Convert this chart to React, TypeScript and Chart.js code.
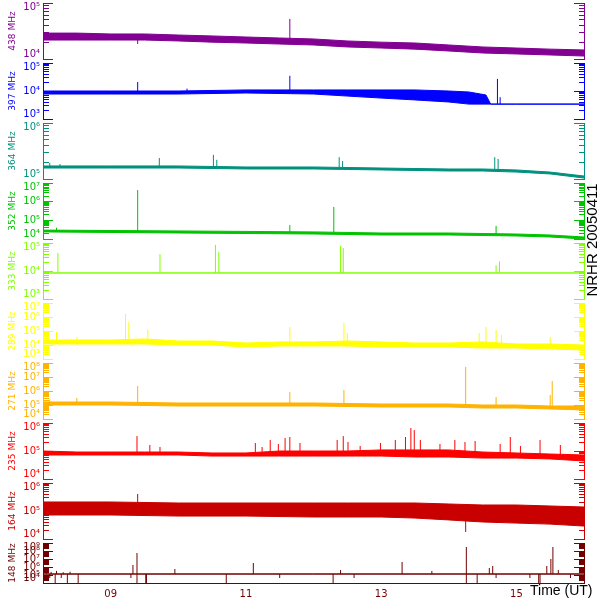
import React, { useEffect, useRef } from 'react';
import { Chart, registerables } from 'chart.js';

Chart.register(...registerables);

// ---------- time axis (hours UT) ----------
const HOUR_MIN = 8;
const HOUR_MAX = 16;
const hourTicks = [9, 11, 13, 15];
const halfHours = [8, 8.5, 9, 9.5, 10, 10.5, 11, 11.5, 12, 12.5, 13, 13.5, 14, 14.5, 15, 15.5, 16];

// ---------- 438 MHz ----------
const hi438 = [2.9e4, 2.9e4, 2.8e4, 2.8e4, 2.68e4, 2.58e4, 2.47e4, 2.37e4, 2.28e4, 2.1e4, 2.0e4, 1.93e4, 1.78e4, 1.64e4, 1.57e4, 1.5e4, 1.45e4];
const lo438 = [2.18e4, 2.18e4, 2.18e4, 2.18e4, 2.1e4, 2.0e4, 1.93e4, 1.85e4, 1.78e4, 1.64e4, 1.57e4, 1.5e4, 1.39e4, 1.28e4, 1.23e4, 1.18e4, 1.13e4];
const spikeT438 = [9.4, 11.65];
const spikeLo438 = [1.85e4, 2.3e4];
const spikeHi438 = [2.3e4, 5.2e4];

// ---------- 397 MHz ----------
const t397 = [8, 9, 10, 11, 12, 12.5, 13, 13.5, 14, 14.3, 14.55, 14.62, 15, 16];
const hi397 = [1.0e4, 1.0e4, 1.0e4, 1.09e4, 1.09e4, 1.09e4, 1.09e4, 1.09e4, 1.0e4, 9.2e3, 7.2e3, 3.4e3, 3.4e3, 3.4e3];
const lo397 = [7.8e3, 7.8e3, 7.8e3, 8.5e3, 7.8e3, 6.6e3, 5.6e3, 4.8e3, 4.05e3, 3.4e3, 3.4e3, 3.4e3, 3.4e3, 3.4e3];
const spikeT397 = [9.4, 10.13, 11.65, 14.45, 14.72, 14.76];
const spikeLo397 = [9.0e3, 9.0e3, 9.5e3, 3.4e3, 3.4e3, 3.4e3];
const spikeHi397 = [2.1e4, 1.22e4, 3.5e4, 5.0e3, 2.7e4, 6.0e3];

// ---------- 364 MHz ----------
const t364 = [8, 9, 10, 11, 12, 13, 14, 14.5, 15, 15.5, 16];
const hi364 = [1.71e5, 1.71e5, 1.71e5, 1.64e5, 1.64e5, 1.57e5, 1.51e5, 1.51e5, 1.45e5, 1.33e5, 1.13e5];
const lo364 = [1.57e5, 1.57e5, 1.57e5, 1.51e5, 1.51e5, 1.45e5, 1.39e5, 1.39e5, 1.33e5, 1.23e5, 1.04e5];
const spikeT364 = [8.1, 8.25, 9.72, 10.52, 10.57, 12.38, 12.43, 14.68, 14.73];
const spikeLo364 = [1.6e5, 1.6e5, 1.6e5, 1.6e5, 1.6e5, 1.55e5, 1.55e5, 1.45e5, 1.45e5];
const spikeHi364 = [1.93e5, 1.85e5, 2.37e5, 2.7e5, 2.2e5, 2.45e5, 2.1e5, 2.45e5, 2.28e5];

// ---------- 352 MHz ----------
const t352 = [8, 10, 12, 13, 14, 15, 15.5, 16];
const hi352 = [3.0e4, 2.7e4, 2.4e4, 2.1e4, 2.1e4, 1.85e4, 1.64e4, 1.28e4];
const lo352 = [2.4e4, 2.1e4, 1.85e4, 1.64e4, 1.64e4, 1.45e4, 1.28e4, 1.0e4];
const spikeT352 = [8.2, 9.4, 11.65, 12.3, 14.7];
const spikeLo352 = [2.6e4, 2.5e4, 2.2e4, 2.1e4, 1.8e4];
const spikeHi352 = [4.0e4, 4.2e6, 5.6e4, 5.2e5, 5.0e4];

// ---------- 333 MHz ----------
const t333 = [8, 16];
const hi333 = [8.5e3, 8.5e3];
const lo333 = [8.5e3, 8.5e3];
const spikeT333 = [8.22, 9.73, 10.55, 10.6, 12.4, 12.44, 14.7, 14.75];
const spikeLo333 = [8.5e3, 8.5e3, 8.5e3, 8.5e3, 8.5e3, 8.5e3, 8.5e3, 8.5e3];
const spikeHi333 = [4.4e4, 4.0e4, 8.5e4, 4.8e4, 7.8e4, 6.6e4, 1.6e4, 2.2e4];

// ---------- 289 MHz ----------
const hi289 = [2.28e4, 2.28e4, 2.28e4, 2.68e4, 1.93e4, 1.93e4, 1.39e4, 1.64e4, 1.64e4, 1.93e4, 1.64e4, 1.39e4, 1.39e4, 1.64e4, 1.18e4, 1.18e4, 1.0e4];
const lo289 = [1.18e4, 1.18e4, 1.18e4, 1.18e4, 1.0e4, 1.0e4, 7.2e3, 8.5e3, 8.5e3, 8.5e3, 7.2e3, 7.2e3, 7.2e3, 6.1e3, 6.1e3, 5.2e3, 4.4e3];
const spikeT289 = [8.2, 8.5, 9.22, 9.27, 9.55, 11.65, 12.45, 12.5, 14.45, 14.55, 14.7, 14.78, 15.5];
const spikeLo289 = [1.5e4, 1.5e4, 1.5e4, 1.5e4, 1.5e4, 1.2e4, 1.3e4, 1.3e4, 1.1e4, 1.1e4, 1.1e4, 1.1e4, 9.0e3];
const spikeHi289 = [8.5e4, 3.7e4, 1.64e6, 4.4e5, 1.18e5, 1.93e5, 3.7e5, 7.2e4, 7.2e4, 1.93e5, 1.18e5, 5.2e4, 3.7e4];

// ---------- 271 MHz ----------
const t271 = [8, 9, 10, 11, 12, 13, 14, 14.5, 15, 15.5, 16];
const hi271 = [1.64e5, 1.64e5, 1.39e5, 1.39e5, 1.39e5, 1.18e5, 1.18e5, 1.0e5, 1.0e5, 8.5e4, 8.5e4];
const lo271 = [1.0e5, 1.0e5, 8.5e4, 8.5e4, 8.5e4, 7.2e4, 7.2e4, 6.1e4, 6.1e4, 5.2e4, 4.4e4];
const spikeT271 = [8.1, 8.5, 9.4, 11.65, 12.45, 14.25, 14.7, 15.5, 15.53];
const spikeLo271 = [1.3e5, 1.3e5, 1.2e5, 1.1e5, 1.0e5, 9.0e4, 8.0e4, 7.0e4, 7.0e4];
const spikeHi271 = [2.5e5, 3.2e5, 2.28e6, 8.5e5, 1.18e6, 5.2e7, 3.7e5, 5.2e5, 5.2e6];

// ---------- 235 MHz ----------
const hi235 = [1.0e5, 9.2e4, 9.2e4, 9.2e4, 9.2e4, 8.5e4, 8.5e4, 1.0e5, 1.0e5, 1.0e5, 1.09e5, 1.09e5, 1.09e5, 9.2e4, 8.5e4, 7.8e4, 7.2e4];
const lo235 = [7.2e4, 7.2e4, 7.2e4, 7.2e4, 7.2e4, 6.6e4, 6.6e4, 6.6e4, 6.6e4, 6.6e4, 6.6e4, 6.1e4, 6.1e4, 5.6e4, 5.6e4, 5.2e4, 4.4e4];
const spikeT235 = [9.39, 9.58, 9.73, 11.14, 11.24, 11.36, 11.48, 11.58, 11.65, 11.8, 12.35, 12.44, 12.51, 12.69, 12.99, 13.21, 13.36, 13.44, 13.49, 13.58, 13.87, 14.09, 14.24, 14.39, 14.76, 14.91, 15.06, 15.35, 15.65];
const spikeLo235 = [9e4, 9e4, 9e4, 9e4, 9e4, 9e4, 9e4, 9e4, 9e4, 9e4, 9e4, 9e4, 9e4, 9e4, 9e4, 9e4, 9e4, 9e4, 9e4, 9e4, 9e4, 9e4, 9e4, 9e4, 8e4, 8e4, 8e4, 7e4, 7e4];
const spikeHi235 = [3.4e5, 1.64e5, 1.39e5, 1.93e5, 1.39e5, 2.47e5, 1.78e5, 2.9e5, 3.16e5, 1.93e5, 2.47e5, 3.4e5, 2.1e5, 1.51e5, 1.93e5, 2.47e5, 3.16e5, 6.6e5, 5.6e5, 2.47e5, 1.78e5, 2.47e5, 2.1e5, 2.28e5, 1.78e5, 3.16e5, 1.51e5, 2.47e5, 1.64e5];

// ---------- 164 MHz ----------
const t164 = [8, 9, 10, 11, 12, 12.5, 13, 13.5, 14, 14.5, 15, 15.5, 16];
const hi164 = [2.1e5, 2.1e5, 1.93e5, 1.93e5, 1.93e5, 1.93e5, 1.93e5, 1.93e5, 1.78e5, 1.64e5, 1.64e5, 1.51e5, 1.39e5];
const lo164 = [7.2e4, 7.2e4, 6.6e4, 6.6e4, 6.1e4, 6.1e4, 6.1e4, 5.6e4, 4.8e4, 4.05e4, 3.7e4, 3.4e4, 2.9e4];
const spikeT164 = [9.4, 14.25];
const spikeLo164 = [2.0e5, 1.78e4];
const spikeHi164 = [4.05e5, 5.0e4];

// ---------- 148 MHz ----------
const t148 = [8, 16];
const hi148 = [1.33e5, 1.33e5];
const lo148 = [1.33e5, 1.33e5];
const spikeT148 = [8.05, 8.12, 8.2, 8.3, 8.4, 9.33, 9.39, 9.95, 11.11, 12.4, 13.31, 13.75, 14.26, 14.6, 14.65, 15.45, 15.51, 15.54, 15.62,
  8.1, 8.18, 8.27, 8.36, 8.52, 9.3, 9.39, 9.52, 9.53, 10.71, 11.5, 12.29, 12.6, 14.26, 14.42, 14.7, 15.2, 15.33, 15.35, 15.8];
const spikeLo148 = [1.33e5, 1.33e5, 1.33e5, 1.33e5, 1.33e5, 1.33e5, 1.33e5, 1.33e5, 1.33e5, 1.33e5, 1.33e5, 1.33e5, 1.33e5, 1.33e5, 1.33e5, 1.33e5, 1.33e5, 1.33e5, 1.33e5,
  4.2e4, 1e4, 4.2e4, 1e4, 1e4, 4.2e4, 1e4, 1e4, 1e4, 1e4, 4.2e4, 1e4, 4.2e4, 1e4, 1e4, 4.2e4, 4.2e4, 1e4, 1e4, 4.2e4];
const spikeHi148 = [5.6e5, 2.5e5, 3.2e5, 2.2e5, 2.6e5, 1.78e6, 5.6e7, 5.6e5, 3.16e6, 4.2e5, 4.2e6, 3.2e5, 3.16e8, 7.5e5, 1.33e6, 1.33e6, 1e7, 3.16e8, 4.2e5,
  1.33e5, 1.33e5, 1.33e5, 1.33e5, 1.33e5, 1.33e5, 1.33e5, 1.33e5, 1.33e5, 1.33e5, 1.33e5, 1.33e5, 1.33e5, 1.33e5, 1.33e5, 1.33e5, 1.33e5, 1.33e5, 1.33e5, 1.33e5];

// ---------- panel setup ----------
const panelNames = ['438 MHz', '397 MHz', '364 MHz', '352 MHz', '333 MHz', '289 MHz', '271 MHz', '235 MHz', '164 MHz', '148 MHz'];
const panelMinExp = [4, 3, 5, 4, 3, 3, 4, 4, 4, 4];
const panelMaxExp = [5, 5, 6, 7, 5, 7, 8, 6, 6, 9];
const panelColors = ['#820092', '#0000ff', '#00917e', '#00c300', '#80ff00', '#ffff00', '#ffb300', '#ff0000', '#c80000', '#730000'];
const panelWeights = [56, 56, 56, 56, 56, 56, 56, 56, 56, 40];
const GAP_WEIGHT = 4;
const STAMP = 'NRHR 20050411';
const TIME_TITLE = 'Time (UT)';

const panelTimes = [halfHours, t397, t364, t352, t333, halfHours, t271, halfHours, t164, t148];
const panelHi = [hi438, hi397, hi364, hi352, hi333, hi289, hi271, hi235, hi164, hi148];
const panelLo = [lo438, lo397, lo364, lo352, lo333, lo289, lo271, lo235, lo164, lo148];
const panelSpikeT = [spikeT438, spikeT397, spikeT364, spikeT352, spikeT333, spikeT289, spikeT271, spikeT235, spikeT164, spikeT148];
const panelSpikeLo = [spikeLo438, spikeLo397, spikeLo364, spikeLo352, spikeLo333, spikeLo289, spikeLo271, spikeLo235, spikeLo164, spikeLo148];
const panelSpikeHi = [spikeHi438, spikeHi397, spikeHi364, spikeHi352, spikeHi333, spikeHi289, spikeHi271, spikeHi235, spikeHi164, spikeHi148];

const SUP = '⁰¹²³⁴⁵⁶⁷⁸⁹';
const powLabel = (e: number) => '10' + String(e).split('').map((d) => SUP[Number(d)]).join('');
const isPow10 = (v: number) => Math.abs(Math.log10(v) - Math.round(Math.log10(v))) < 1e-6;

function decadeTicks(minExp: number, maxExp: number) {
  const out: { value: number }[] = [];
  for (let e = minExp; e < maxExp; e++) {
    for (let k = 1; k < 10; k++) out.push({ value: k * Math.pow(10, e) });
  }
  out.push({ value: Math.pow(10, maxExp) });
  return out;
}

function spikePoints(t: number[], lo: number[], hi: number[]) {
  const pts: { x: number; y: number | null }[] = [];
  t.forEach((x, i) => {
    pts.push({ x, y: lo[i] }, { x, y: hi[i] }, { x, y: null });
  });
  return pts;
}

const LEFT_W = 43;
const RIGHT_W = 16;
const TICK_LEN = 10;

function fitVertical(width: number) {
  return (s: any) => {
    s.width = width;
    s.paddingTop = 0;
    s.paddingBottom = 0;
    s.paddingLeft = 0;
    s.paddingRight = 0;
  };
}

function leftAxis(i: number) {
  const color = panelColors[i];
  const minE = panelMinExp[i];
  const maxE = panelMaxExp[i];
  return {
    type: 'logarithmic',
    position: 'left',
    stack: 'panels',
    stackWeight: panelWeights[i],
    min: Math.pow(10, minE),
    max: Math.pow(10, maxE),
    afterBuildTicks: (s: any) => { s.ticks = decadeTicks(minE, maxE); },
    afterFit: fitVertical(LEFT_W),
    border: { display: true, color, width: 1 },
    grid: {
      display: true,
      drawOnChartArea: false,
      drawTicks: true,
      tickLength: -TICK_LEN,
      tickColor: color,
      tickWidth: 1,
      tickBorderDash: (c: any) => (c.tick && isPow10(c.tick.value) ? [] : [6, 100]),
      tickBorderDashOffset: (c: any) => (c.tick && isPow10(c.tick.value) ? 0 : 102),
    },
    ticks: {
      autoSkip: false,
      color,
      padding: 13,
      font: { family: 'DejaVu Sans', size: 10, lineHeight: 0.9 },
      callback: (v: any) => {
        const val = Number(v);
        if (!isPow10(val)) return '';
        const e = Math.round(Math.log10(val));
        const s = powLabel(e);
        if (e === maxE) return ['', s];
        if (e === minE) return [s, ''];
        return s;
      },
    },
    title: {
      display: true,
      text: panelNames[i],
      color,
      font: { family: 'DejaVu Sans', size: 9 },
      padding: { top: 7, bottom: 0 },
    },
  };
}

function rightAxis(i: number) {
  const color = panelColors[i];
  const minE = panelMinExp[i];
  const maxE = panelMaxExp[i];
  return {
    type: 'logarithmic',
    position: 'right',
    stack: 'panels',
    stackWeight: panelWeights[i],
    min: Math.pow(10, minE),
    max: Math.pow(10, maxE),
    afterBuildTicks: (s: any) => { s.ticks = decadeTicks(minE, maxE); },
    afterFit: fitVertical(RIGHT_W),
    border: { display: true, color, width: 1 },
    grid: {
      display: true,
      drawOnChartArea: false,
      drawTicks: true,
      tickLength: -TICK_LEN,
      tickColor: color,
      tickWidth: 1,
      tickBorderDash: (c: any) => (c.tick && isPow10(c.tick.value) ? [] : [6, 100]),
      tickBorderDashOffset: 0,
    },
    ticks: { display: false, autoSkip: false },
  };
}

function gapAxis(position: string, width: number) {
  return {
    type: 'linear',
    position,
    stack: 'panels',
    stackWeight: GAP_WEIGHT,
    display: true,
    afterFit: fitVertical(width),
    border: { display: false },
    grid: { display: false, drawTicks: false },
    ticks: { display: false },
  };
}

const stampPlugin = {
  id: 'stamp',
  afterDraw(chart: any) {
    const { ctx, chartArea } = chart;
    ctx.save();
    ctx.fillStyle = '#000000';
    ctx.font = '15px "Liberation Sans"';
    ctx.textAlign = 'center';
    ctx.textBaseline = 'alphabetic';
    ctx.translate(chartArea.right + 13, 240);
    ctx.rotate(-Math.PI / 2);
    ctx.fillText(STAMP, 0, 0);
    ctx.restore();
    ctx.save();
    ctx.fillStyle = '#000000';
    ctx.font = '14px "Liberation Sans"';
    ctx.textAlign = 'left';
    ctx.textBaseline = 'alphabetic';
    ctx.fillText(TIME_TITLE, chartArea.right - 54, chartArea.bottom + 12);
    ctx.restore();
  },
};

export default function App() {
  const ref = useRef<HTMLCanvasElement>(null);
  useEffect(() => {
    if (!ref.current) return;
    const n = panelNames.length;
    const datasets: any[] = [];
    for (let i = 0; i < n; i++) {
      const yAxisID = 'y' + i;
      const color = panelColors[i];
      const t = panelTimes[i];
      datasets.push({
        data: t.map((x, j) => ({ x, y: panelLo[i][j] })),
        yAxisID, borderColor: color, borderWidth: 1, pointRadius: 0, fill: false, tension: 0,
      });
      datasets.push({
        data: t.map((x, j) => ({ x, y: panelHi[i][j] })),
        yAxisID, borderColor: color, backgroundColor: color, borderWidth: 1, pointRadius: 0, fill: '-1', tension: 0,
      });
      datasets.push({
        data: spikePoints(panelSpikeT[i], panelSpikeLo[i], panelSpikeHi[i]),
        yAxisID, borderColor: color, borderWidth: 1, pointRadius: 0, fill: false, spanGaps: false, tension: 0,
      });
    }

    const scales: any = {
      x: {
        type: 'linear',
        position: 'bottom',
        min: HOUR_MIN,
        max: HOUR_MAX,
        afterBuildTicks: (s: any) => { s.ticks = hourTicks.map((v) => ({ value: v })); },
        afterFit: (s: any) => {
          s.height = 17;
          s.paddingLeft = 0;
          s.paddingRight = 0;
          s.paddingTop = 0;
          s.paddingBottom = 0;
        },
        border: { display: true, color: panelColors[n - 1], width: 1 },
        grid: { display: false, drawTicks: false },
        ticks: {
          autoSkip: false,
          maxRotation: 0,
          color: panelColors[n - 1],
          padding: 5,
          font: { family: 'DejaVu Sans', size: 10 },
          callback: (v: any) => (Number(v) < 10 ? '0' + v : String(v)),
        },
      },
    };
    // Chart.js stacks left boxes in reverse definition order: define bottom-to-top.
    for (let i = n - 1; i >= 0; i--) {
      scales['y' + i] = leftAxis(i);
      if (i > 0) scales['gl' + i] = gapAxis('left', LEFT_W);
    }
    for (let i = 0; i < n; i++) {
      scales['r' + i] = rightAxis(i);
      if (i < n - 1) scales['gr' + i] = gapAxis('right', RIGHT_W);
    }

    const chart = new Chart(ref.current, {
      type: 'line',
      data: { datasets },
      options: {
        animation: false,
        responsive: false,
        devicePixelRatio: 1,
        events: [],
        layout: { padding: { top: 3, left: 0, right: 0, bottom: 0 } },
        plugins: { legend: { display: false }, tooltip: { enabled: false }, title: { display: false } },
        scales,
      } as any,
      plugins: [stampPlugin],
    });
    return () => chart.destroy();
  }, []);

  return (
    <div style={{ position: 'fixed', left: 0, top: 0, width: 600, height: 600, background: '#ffffff' }}>
      <canvas ref={ref} width={600} height={600} style={{ display: 'block' }} />
    </div>
  );
}
